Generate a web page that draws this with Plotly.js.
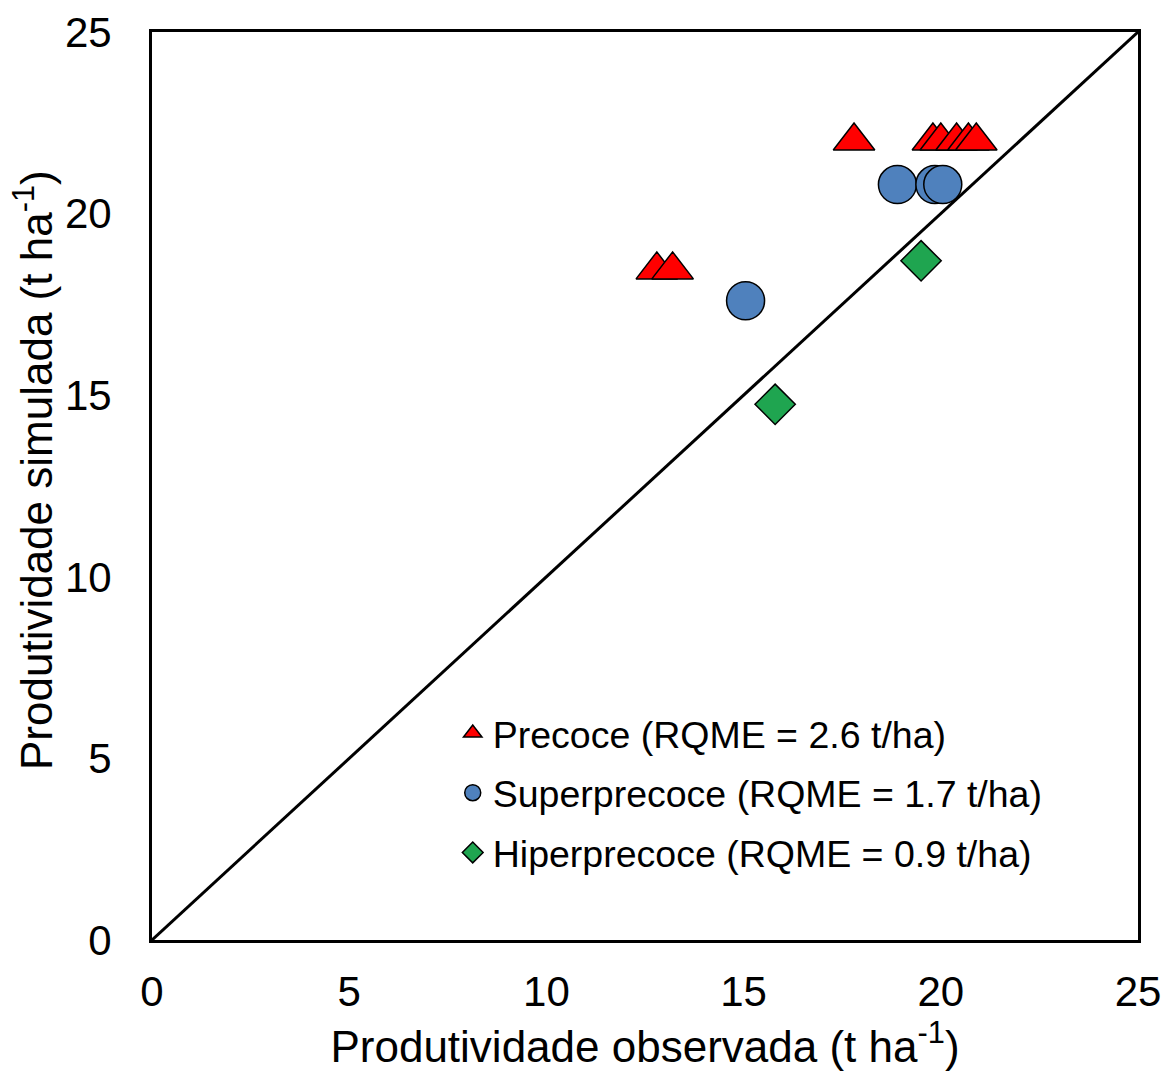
<!DOCTYPE html>
<html>
<head>
<meta charset="utf-8">
<script src="https://cdn.plot.ly/plotly-3.0.1.min.js"></script>
<style>html,body{margin:0;padding:0;background:#fff;}</style>
</head>
<body>
<div id="chart" style="width:1173px;height:1077px;"></div>
<script>
// Data
const precoceObs = [17.8, 19.8, 20.0, 20.4, 20.7, 20.9, 12.8, 13.2];
const precoceSim = [22.0, 22.0, 22.0, 22.0, 22.0, 22.0, 18.45, 18.45];
const superObs = [18.9, 19.85, 20.05, 15.05];
const superSim = [20.8, 20.8, 20.8, 17.6];
const hiperObs = [19.5, 15.8];
const hiperSim = [18.7, 14.75];
const lineXY = [0, 25];
const tickVals = [0, 5, 10, 15, 20, 25];
const seriesNames = [
  'Precoce (RQME = 2.6 t/ha)',
  'Superprecoce (RQME = 1.7 t/ha)',
  'Hiperprecoce (RQME = 0.9 t/ha)'
];
const xTitle = 'Produtividade observada (t ha<sup>-1</sup>)';
const yTitle = 'Produtividade simulada (t ha<sup>-1</sup>)';

const font = 'Liberation Sans, Arial, sans-serif';

const traces = [
  {x: lineXY, y: lineXY, mode: 'lines', line: {color: '#000', width: 3}, showlegend: false, hoverinfo: 'skip'},
  {x: precoceObs, y: precoceSim, mode: 'markers', name: seriesNames[0], legendgroup: 'a',
   marker: {symbol: 'triangle-up', size: 36, color: '#FF0000', line: {color: '#000', width: 1.5}}},
  {x: superObs, y: superSim, mode: 'markers', name: seriesNames[1], legendgroup: 'b',
   marker: {symbol: 'circle', size: 38, color: '#4F81BD', line: {color: '#000', width: 1.5}}},
  {x: hiperObs, y: hiperSim, mode: 'markers', name: seriesNames[2], legendgroup: 'c',
   marker: {symbol: 'diamond', size: 31, color: '#1FA550', line: {color: '#000', width: 1.5}}}
];

const axisCommon = {
  range: [0, 25], tickvals: tickVals, ticktext: tickVals.map(String),
  showline: true, mirror: true, linecolor: '#000', linewidth: 3,
  showgrid: false, zeroline: false,
  ticks: 'outside', tickcolor: 'rgba(0,0,0,0)',
  tickfont: {family: font, size: 42, color: '#000'}
};

const layout = {
  width: 1173, height: 1077,
  margin: {l: 152, r: 35, t: 32, b: 137},
  paper_bgcolor: '#fff', plot_bgcolor: '#fff',
  font: {family: font, color: '#000'},
  xaxis: Object.assign({}, axisCommon, {
    ticklen: 13,
    title: {text: xTitle, font: {family: font, size: 44, color: '#000'}, standoff: 14}
  }),
  yaxis: Object.assign({}, axisCommon, {
    ticklen: 29
  }),
  annotations: [{
    text: yTitle, xref: 'paper', yref: 'paper',
    x: -0.1207, y: 0.5176, xanchor: 'center', yanchor: 'middle',
    textangle: -90, showarrow: false,
    font: {family: font, size: 44, color: '#000'}
  }],
  showlegend: true,
  legend: {
    x: 0.305, y: 0.262, xanchor: 'left', yanchor: 'top',
    traceorder: 'grouped', tracegroupgap: 8,
    font: {family: font, size: 37.5, color: '#000'},
    bgcolor: 'rgba(0,0,0,0)', itemwidth: 30
  }
};

Plotly.newPlot('chart', traces, layout, {staticPlot: true, displayModeBar: false});
</script>
</body>
</html>
